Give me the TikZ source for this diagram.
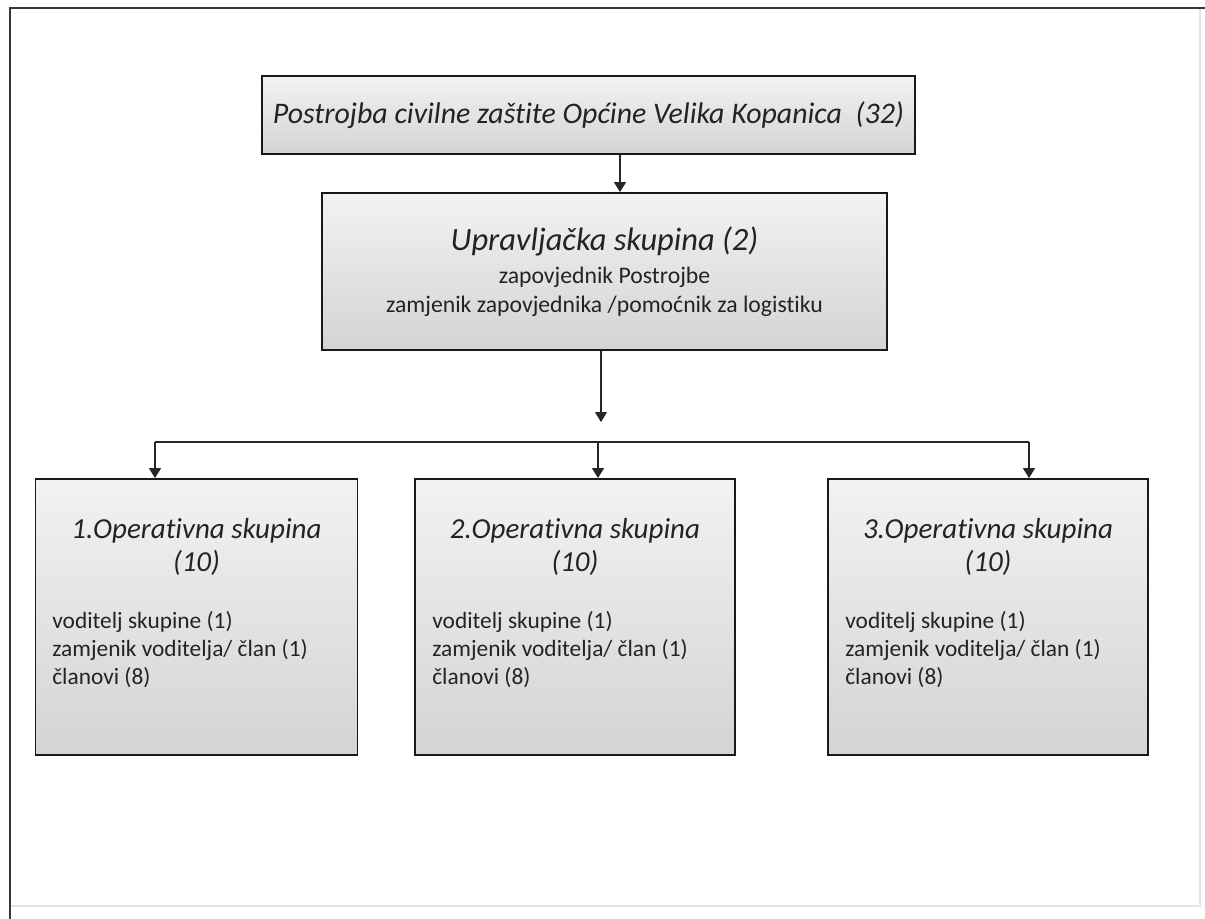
\documentclass[tikz,border=0pt]{standalone}
\usepackage{fontspec}
\setmainfont{Carlito}[Ligatures=NoCommon]
\usetikzlibrary{arrows.meta,positioning,calc}
\definecolor{framegray}{RGB}{55,55,55}
\definecolor{edgegray}{RGB}{228,228,228}
\definecolor{inkgray}{RGB}{35,35,35}

\begin{document}
\begin{tikzpicture}[x=0.02cm, y=-0.02cm, every node/.style={text=inkgray, font=\fontsize{13.3}{15.9}\selectfont}]
\tikzset{
  box/.style={draw=black!90, line width=1.1pt, top color=gray!10, bottom color=gray!34, inner sep=0pt},
  opstitle/.style={align=center, font=\itshape\fontsize{16.5}{19}\selectfont},
  opsbody/.style={anchor=north west, align=left, inner sep=0pt},
  link/.style={-{Triangle[length=2mm,width=2.4mm]}, line width=0.75pt, black!85}
}
\useasboundingbox (0,0) rectangle (1205,919);
% outer frame
\draw[edgegray, line width=1pt] (1200,8) -- (1200,906) -- (10,906);
\draw[framegray, line width=1.6pt] (10,919) -- (10,8) -- (1205,8);

\node[box, minimum width=13.06cm, minimum height=1.56cm, font=\itshape\fontsize{17}{20}\selectfont] (pcz) at (588.5,115) {Postrojba civilne zaštite Općine Velika Kopanica\ \ (32)};

\node[box, minimum width=11.3cm, minimum height=3.14cm, align=center, font=\fontsize{13.5}{16.2}\selectfont] (uprava) at (604.5,271.5) {{\itshape\fontsize{18.5}{22}\selectfont Upravljačka skupina (2)}\\[3pt]zapovjednik Postrojbe\\zamjenik zapovjednika /pomoćnik za logistiku};

% operativne skupine
\node[box, minimum width=6.44cm, minimum height=5.52cm] (ops1) at (196.5,617) {};
\node[opstitle] (ops1T) at (196.5,547) {1.Operativna skupina\\(10)};
\node[opsbody] (ops1B) at (52,611) {voditelj skupine (1)\\zamjenik voditelja/ član (1)\\članovi (8)};

\node[box, minimum width=6.4cm, minimum height=5.52cm] (ops2) at (575,617) {};
\node[opstitle] (ops2T) at (575,547) {2.Operativna skupina\\(10)};
\node[opsbody] (ops2B) at (432,611) {voditelj skupine (1)\\zamjenik voditelja/ član (1)\\članovi (8)};

\node[box, minimum width=6.4cm, minimum height=5.52cm] (ops3) at (988,617) {};
\node[opstitle] (ops3T) at (988,547) {3.Operativna skupina\\(10)};
\node[opsbody] (ops3B) at (845,611) {voditelj skupine (1)\\zamjenik voditelja/ član (1)\\članovi (8)};

% veze
\coordinate (drop) at (620,0);
\coordinate (split) at (601,422);
\coordinate (bar1) at (155,442);
\coordinate (bar2) at (598,442);
\coordinate (bar3) at (1029,442);
\draw[link] (pcz.south -| drop) -- (uprava.north -| drop);
\draw[link] (uprava.south -| split) -- (split);
\draw[line width=0.75pt, black!85] (bar1) -- (bar3);
\draw[link] (bar1) -- (bar1 |- ops1.north);
\draw[link] (bar2) -- (bar2 |- ops2.north);
\draw[link] (bar3) -- (bar3 |- ops3.north);
\end{tikzpicture}
\end{document}
